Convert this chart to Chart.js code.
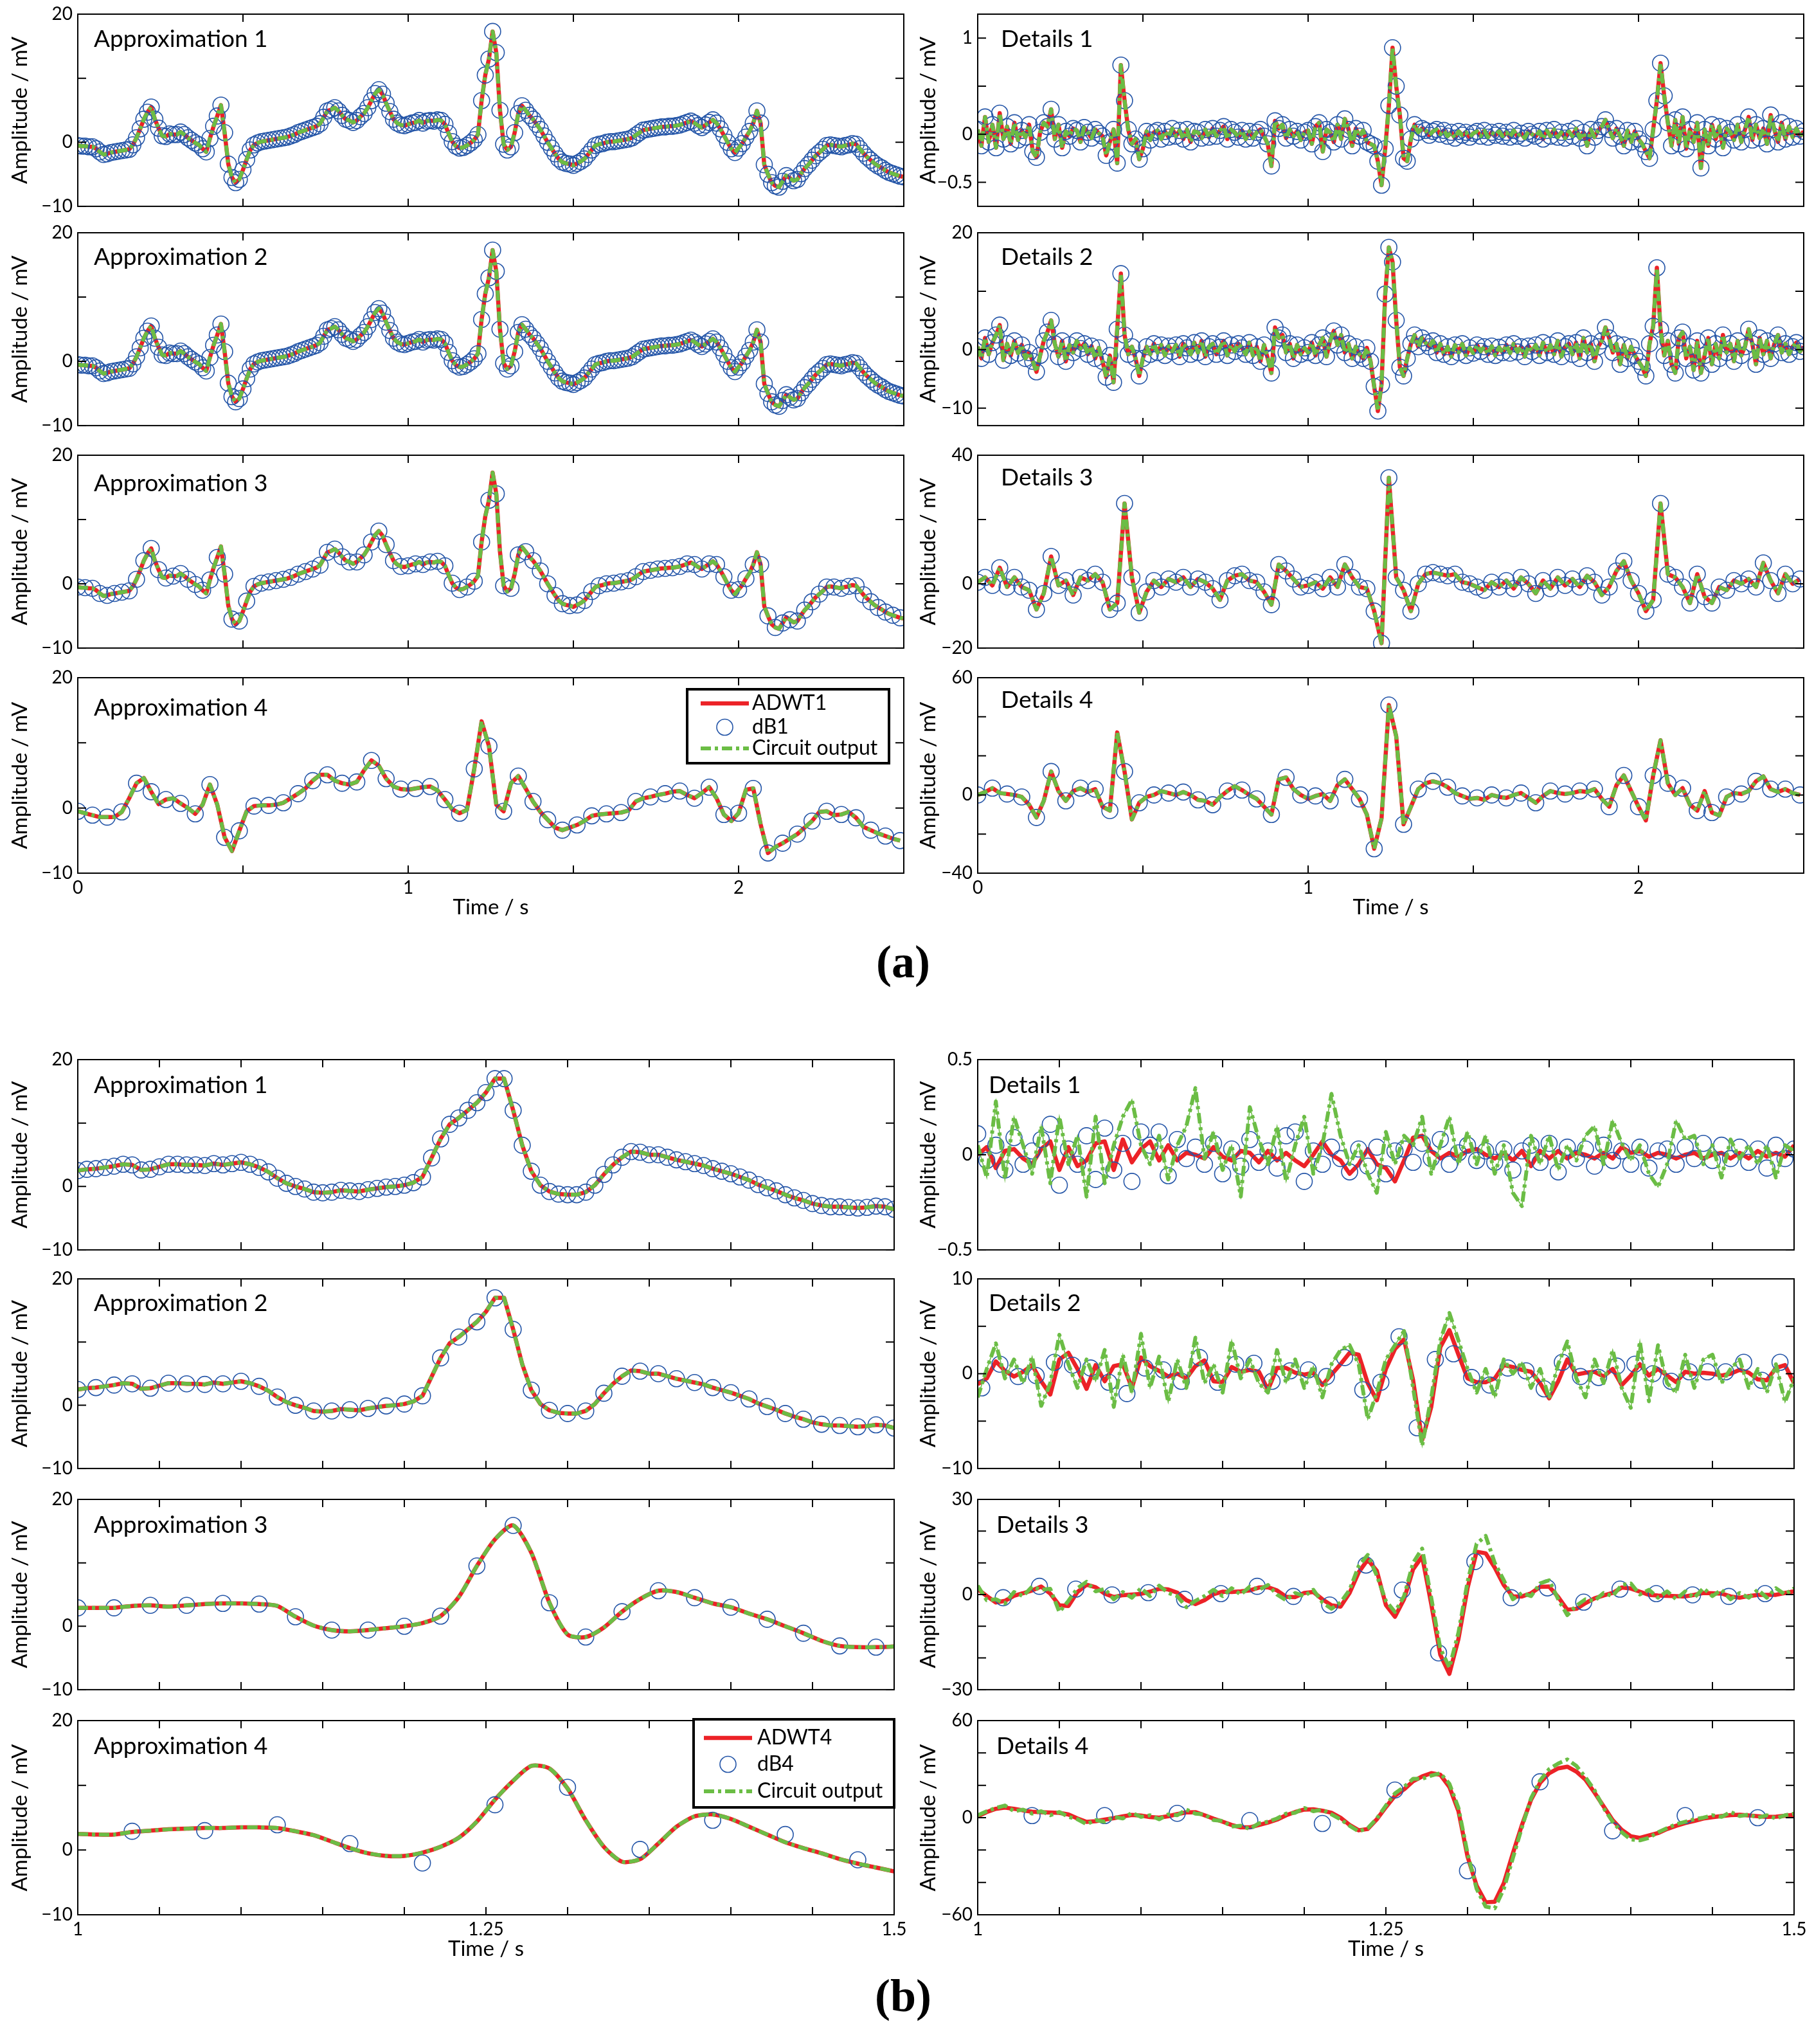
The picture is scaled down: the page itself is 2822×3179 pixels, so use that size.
<!DOCTYPE html>
<html>
<head>
<meta charset="utf-8">
<script src="https://cdn.jsdelivr.net/npm/chart.js@4.4.1/dist/chart.umd.min.js"></script>
<style>
  body { margin: 0; background: #fff; width: 2822px; height: 3179px; position: relative; overflow: hidden; }
  .box { position: absolute; }
  .tag { position: absolute; font: bold 72px "Liberation Serif", serif; line-height: 1; transform: translate(-50%, -50%); color: #000; }
</style>
</head>
<body>
<div class="tag" style="left:1405px; top:1496px">(a)</div>
<div class="tag" style="left:1405px; top:3104px">(b)</div>
<script>
// ---------- panel (a): 0 - 2.5 s ----------
// approximation 1-3 (level-2 spacing, 1/90 s)
const approxA = [
  -0.5,-0.6,-0.6,-0.7,-0.7,-1.0,-1.5,-1.9,-1.8,
  -1.6,-1.5,-1.4,-1.3,-1.2,-1.1,-0.4,0.7,2.1,
  3.6,4.7,5.5,3.6,2.2,1.0,0.9,1.3,1.2,
  1.2,1.6,1.2,0.7,0.3,-0.1,-0.4,-1.0,-1.5,
  0.6,2.5,4.1,5.8,1.5,-3.4,-5.5,-6.3,-5.8,
  -4.3,-2.7,-1.2,-0.4,-0.1,0.1,0.2,0.3,0.4,
  0.5,0.6,0.7,0.8,1.0,1.2,1.5,1.7,1.9,
  2.1,2.3,2.5,2.9,3.9,4.9,5.1,5.4,4.9,
  4.2,3.6,3.4,3.1,3.4,4.0,4.5,5.4,6.5,
  7.6,8.2,7.5,6.1,4.8,3.6,3.0,2.7,2.6,
  2.8,3.0,3.1,3.4,3.0,3.3,3.4,3.3,3.5,
  3.4,2.8,1.4,0.1,-0.6,-0.9,-0.8,-0.5,-0.1,
  0.4,1.2,6.5,10.5,13.0,17.3,14.0,5.0,-0.3,
  -1.2,-0.7,1.5,4.5,5.7,5.0,4.2,3.6,2.8,
  2.0,1.0,0.0,-0.9,-1.8,-2.6,-3.1,-3.3,-3.4,
  -3.6,-3.3,-3.0,-2.6,-1.9,-1.2,-0.5,-0.3,-0.2,
  0.0,0.1,0.1,0.2,0.3,0.4,0.5,0.7,1.1,
  1.5,1.9,2.0,2.1,2.2,2.3,2.4,2.4,2.5,
  2.5,2.6,2.7,2.9,3.1,3.3,3.0,2.6,2.3,
  2.7,3.1,3.5,3.0,2.1,1.1,0.0,-1.0,-1.6,
  -0.9,-0.2,0.8,1.7,3.0,4.9,3.0,-3.5,-5.0,
  -6.3,-6.8,-7.0,-6.1,-5.2,-5.6,-6.0,-5.8,-4.9,
  -4.1,-3.5,-2.8,-2.1,-1.6,-1.1,-0.5,-0.4,-0.5,
  -0.6,-0.7,-0.5,-0.4,-0.2,-0.3,-1.0,-1.7,-2.3,
  -2.8,-3.3,-3.7,-4.0,-4.4,-4.7,-4.9,-5.1,-5.3,-5.4
];
// approximation 4 (1/45 s)
const approxA4 = [
  -0.5,-0.8,-1.1,-1.4,-1.4,-1.4,-0.6,1.5,3.8,
  4.6,2.5,0.6,1.3,1.5,0.7,0.0,-0.9,0.5,
  3.6,0.5,-4.5,-6.6,-3.5,-0.5,0.3,0.4,0.4,
  0.5,0.8,1.5,2.2,3.0,4.2,5.1,5.1,4.2,
  3.8,3.6,4.0,5.8,7.3,6.5,4.5,3.3,2.9,
  2.8,3.0,3.2,3.3,2.7,1.3,-0.2,-0.8,-0.3,
  6.0,13.3,9.5,0.5,-0.5,3.8,4.9,3.0,1.0,
  -0.6,-1.8,-3.0,-3.4,-3.0,-2.6,-2.0,-1.2,-1.0,
  -0.9,-0.8,-0.7,-0.4,1.0,1.5,1.7,2.0,2.2,
  2.5,2.6,2.0,1.5,2.3,3.2,1.5,-1.0,-2.0,
  -0.8,2.8,3.0,-2.5,-6.9,-6.0,-5.4,-4.7,-4.0,
  -3.0,-2.0,-0.6,-0.5,-1.1,-1.0,-0.6,-1.5,-2.9,
  -3.4,-3.9,-4.3,-4.7,-5.0
];
// details 1 (1/90 s)
const detA1 = [
  0.05,-0.12,0.18,-0.08,0.10,-0.14,0.22,-0.05,0.08,
  -0.10,0.12,-0.06,0.04,-0.03,0.10,-0.18,-0.24,0.02,
  0.12,0.08,0.26,-0.05,0.10,-0.14,0.03,-0.02,0.06,
  0.04,-0.08,0.07,0.02,-0.04,0.05,0.01,-0.02,-0.22,
  -0.08,0.05,-0.30,0.72,0.35,0.05,-0.10,-0.05,-0.26,
  -0.15,0.03,-0.06,0.02,0.04,-0.05,0.03,-0.03,0.06,
  -0.02,0.04,-0.05,0.05,-0.08,0.03,0.02,-0.04,0.05,
  -0.03,0.06,-0.02,0.04,0.08,-0.05,0.05,0.02,-0.03,
  0.04,-0.05,0.03,-0.04,0.02,0.05,-0.02,-0.10,-0.33,
  0.14,0.06,0.10,-0.04,0.05,-0.02,0.03,-0.06,0.02,
  0.04,-0.10,0.08,0.12,-0.18,0.05,0.02,-0.08,0.10,
  -0.05,0.16,0.05,-0.12,0.06,-0.02,0.04,-0.08,-0.10,
  -0.12,-0.28,-0.53,-0.15,0.30,0.90,0.50,0.20,-0.25,
  -0.28,-0.05,0.10,0.02,0.06,0.04,-0.01,0.03,0.05,
  0.00,0.04,-0.02,0.02,-0.04,0.03,-0.01,0.02,-0.03,
  0.01,0.03,-0.02,0.04,-0.03,0.02,-0.01,0.03,-0.02,
  0.02,-0.03,0.04,-0.02,0.01,-0.04,0.03,0.00,-0.02,
  0.03,-0.05,0.04,-0.02,0.05,-0.03,0.02,-0.04,0.03,
  -0.02,0.06,-0.04,0.02,-0.12,0.05,-0.03,0.04,0.08,
  0.15,0.05,-0.04,0.06,-0.02,-0.12,0.04,-0.08,0.03,
  -0.05,-0.10,-0.18,-0.25,0.05,0.35,0.74,0.40,0.12,
  -0.12,0.15,-0.10,0.18,-0.15,0.05,-0.08,0.12,-0.35,
  0.05,-0.12,0.10,-0.05,0.08,-0.14,0.06,0.02,-0.06,
  0.10,-0.08,0.05,0.18,-0.06,0.10,-0.04,0.06,-0.10,
  0.20,0.05,-0.08,0.12,-0.05,0.08,-0.03,0.06,-0.02,0.03
];
// details 2 (1/90 s)
const detA2 = [
  0.5,-1.5,2.0,-0.8,1.2,2.5,4.2,-1.8,1.0,
  -1.0,1.5,-0.6,0.8,-1.5,-0.5,-2.0,-3.8,-1.0,
  1.5,3.0,5.0,1.0,-1.2,1.5,-2.0,0.8,-0.5,
  1.5,0.2,1.0,-0.8,0.6,-1.5,0.3,-2.0,-4.7,
  -1.0,-5.6,3.5,13.0,2.5,-0.8,0.5,-1.5,-4.5,
  -1.5,0.5,-0.8,1.0,-0.5,0.8,-1.0,0.6,-0.3,
  0.8,-1.2,1.0,0.3,-0.8,1.2,-0.5,1.5,-1.2,
  0.5,1.0,-0.8,0.4,1.5,-1.0,0.8,-0.3,1.0,
  0.3,-0.8,1.2,-1.0,0.5,-2.0,0.8,-1.5,-4.0,
  3.8,2.0,2.5,-0.5,1.0,-1.5,0.8,-0.8,0.3,
  -0.5,1.2,-1.0,0.8,2.0,-1.2,1.5,3.2,0.8,
  2.5,-0.5,1.0,-1.5,0.5,-0.8,-1.5,0.3,-2.0,
  -6.3,-10.5,-6.0,9.5,17.5,15.0,5.0,-3.0,-4.5,
  -1.5,1.0,2.5,0.5,2.0,1.2,0.5,1.5,-0.5,
  1.0,-0.8,0.5,-1.2,0.8,-0.5,1.0,-1.0,0.3,
  -0.6,0.8,-0.3,0.5,-0.8,0.6,-1.0,0.4,-0.5,
  0.8,-0.6,1.0,-0.4,0.5,-1.2,0.6,-0.3,0.8,
  -1.0,1.2,-0.5,0.8,-0.8,1.5,-1.2,0.5,1.0,
  -0.8,1.2,-1.5,2.0,-0.5,1.0,-2.0,0.5,1.5,
  3.8,2.0,-0.5,1.0,-2.5,0.8,-1.5,0.5,-1.0,
  -2.0,-3.0,-4.5,1.0,4.0,14.0,3.5,-1.0,1.5,
  -2.5,-4.0,2.0,3.0,-1.5,0.5,-3.5,1.5,-4.0,
  -1.0,2.0,-2.5,1.0,-1.5,2.5,-0.5,1.0,-2.0,
  1.5,-1.0,0.5,3.5,1.0,-2.5,2.0,-0.8,1.5,
  -1.5,1.0,2.5,-0.5,1.0,-0.8,0.5,1.2,-0.3,0.5
];
// details 3 (1/45 s)
const detA3 = [
  0.5,2.0,-0.5,5.0,-1.0,2.0,-1.0,-2.0,-8.0,
  -3.0,8.5,-0.5,1.0,-3.5,2.0,1.0,3.0,0.5,
  -8.0,-6.0,25.0,2.0,-9.0,-2.5,1.0,-1.0,1.5,
  0.5,2.0,-1.0,1.5,0.5,-1.5,-5.0,1.0,2.5,
  3.0,1.0,0.5,-2.5,-6.5,6.0,4.0,1.5,-1.0,
  -0.5,0.5,-1.5,2.0,-1.0,6.0,2.0,-1.0,-1.5,
  -8.5,-18.5,33.0,2.0,-2.0,-8.5,0.0,3.0,3.5,
  3.0,2.5,3.0,0.5,0.0,-1.0,-2.0,0.5,-1.0,
  1.0,-1.5,2.0,0.0,-3.0,1.0,-1.5,2.0,-0.5,
  1.5,-1.0,2.5,0.5,-3.5,-1.0,4.0,7.0,1.0,
  -3.0,-8.5,-5.0,25.0,3.0,2.0,-1.0,-6.0,3.0,
  -4.0,-6.0,-1.0,-2.0,1.0,0.0,1.5,-1.0,6.5,
  1.0,-3.0,3.0,0.0,1.5
];
// details 4 (1/45 s)
const detA4 = [
  0.0,1.5,3.5,1.0,0.5,0.0,-1.0,-5.0,-11.5,
  -3.0,12.0,2.0,-3.0,2.0,3.5,1.5,3.0,-6.0,
  -8.0,32.0,12.0,-12.5,-4.0,-1.0,0.0,2.0,1.0,
  0.0,1.5,0.0,-2.5,-3.0,-5.0,-1.0,2.0,4.5,
  2.5,0.0,-2.0,-6.0,-10.0,8.0,9.0,3.0,0.0,
  -2.0,-0.5,0.5,-3.0,5.0,8.0,3.0,-2.0,-10.0,
  -27.5,-12.0,46.0,30.0,-15.0,-6.0,3.0,6.0,7.0,
  6.0,4.0,1.0,-0.5,-2.0,-1.5,-2.5,0.0,-1.0,
  -1.5,0.0,1.0,-1.5,-4.0,-0.5,2.0,1.0,0.5,
  1.0,2.0,1.5,3.0,-2.0,-6.0,5.0,10.0,2.0,
  -6.0,-13.0,10.0,28.0,6.0,0.0,3.5,-5.0,-8.0,
  2.0,-9.0,-10.5,-1.0,1.0,0.5,2.0,7.0,9.5,
  3.0,1.5,3.0,1.0,0.0
];

// ---------- panel (b): 1 - 1.5 s ----------
// approximation 1 and 2 (1/180 s)
const approxB = [
  2.5,2.7,2.8,3.0,3.2,3.5,3.4,2.6,2.7,3.1,
  3.5,3.5,3.4,3.4,3.3,3.6,3.4,3.6,3.8,3.5,
  3.0,2.3,1.3,0.5,0.0,-0.4,-0.9,-1.0,-0.9,-0.6,
  -0.7,-0.8,-0.5,-0.3,-0.1,0.0,0.2,0.6,1.5,4.5,
  7.5,9.8,10.8,12.0,13.2,14.8,17.0,17.0,12.0,6.5,
  2.4,0.2,-0.8,-1.2,-1.3,-1.3,-0.9,0.2,1.9,3.4,
  4.6,5.5,5.4,5.0,5.0,4.6,4.2,3.9,3.6,3.3,
  2.8,2.4,2.0,1.5,1.0,0.3,-0.2,-0.7,-1.3,-1.8,
  -2.2,-2.7,-3.0,-3.2,-3.2,-3.3,-3.4,-3.3,-3.1,-3.2,
  -3.6
];
// approximation 3 (1/90 s)
const approxB3 = [
  2.9,2.9,2.9,3.2,3.3,3.1,3.3,3.5,3.6,3.6,
  3.5,3.2,1.5,0.1,-0.6,-0.8,-0.6,-0.3,0.0,0.5,
  1.6,4.6,9.5,13.7,15.9,11.6,3.7,-1.3,-1.7,-0.2,
  2.3,4.3,5.6,5.4,4.5,3.6,3.0,2.0,1.1,0.0,
  -1.1,-2.3,-3.1,-3.3,-3.3,-3.2
];
// approximation 4 (1/90 s) and its dB4 samples
const approxB4 = [
  2.5,2.4,2.4,2.8,3.0,3.2,3.3,3.4,3.4,3.5,
  3.5,3.4,2.9,2.3,1.3,0.3,-0.5,-0.9,-0.9,-0.4,
  0.5,1.9,4.4,7.8,10.7,13.0,12.6,9.5,4.6,0.5,
  -1.8,-1.4,1.0,3.6,5.2,5.5,4.8,3.6,2.4,1.2,
  0.3,-0.5,-1.4,-2.1,-2.7,-3.3
];
const approxB4dB = [2.9,3.0,3.9,1.0,-2.0,7.0,9.7,0.1,4.6,2.4,-1.5];
// details 1 (1/180 s)
const detB1 = [
  0.00,0.04,-0.07,0.02,0.03,-0.02,-0.05,0.03,0.07,-0.08,
  0.04,-0.06,-0.03,0.06,0.07,-0.08,0.08,-0.04,0.03,0.07,
  -0.03,0.05,-0.03,0.01,0.00,-0.02,0.04,-0.01,-0.03,0.02,
  0.01,-0.04,0.02,-0.03,0.01,-0.03,-0.06,0.00,0.07,0.00,
  -0.03,-0.10,-0.05,0.03,-0.05,-0.07,-0.14,-0.03,0.09,0.10,
  0.02,-0.02,0.01,-0.01,0.02,0.03,0.00,-0.02,0.01,-0.03,
  0.02,-0.06,0.02,-0.02,0.02,-0.02,0.01,0.00,-0.02,0.01,
  -0.02,0.04,0.01,0.02,-0.01,0.01,0.00,-0.02,0.00,0.01,
  -0.02,0.00,0.01,-0.02,0.01,-0.02,0.02,-0.01,0.01,-0.01,
  0.05
];
const detB1Circuit = [
  0.05,-0.12,0.28,-0.13,0.20,0.05,-0.10,0.15,-0.15,0.20,
  -0.05,0.10,-0.22,0.20,-0.15,0.05,0.20,0.29,0.05,-0.05,
  0.10,-0.13,0.05,0.15,0.35,-0.02,0.12,-0.08,0.05,-0.22,
  0.25,0.08,-0.05,0.15,-0.14,0.05,0.20,-0.10,0.05,0.32,
  0.10,-0.05,0.05,-0.10,-0.20,0.12,-0.05,0.10,0.05,0.20,
  -0.10,0.05,0.20,-0.05,0.12,-0.05,0.10,-0.10,0.05,-0.20,
  -0.27,0.10,-0.05,0.10,-0.08,0.05,-0.03,0.10,0.15,-0.05,
  0.18,0.06,-0.03,0.05,-0.10,-0.17,-0.05,0.18,0.08,0.10,
  -0.05,0.05,-0.12,0.08,-0.02,0.05,-0.05,0.05,-0.12,0.05,
  0.02
];
const detB1dB = [
  0.11,-0.03,0.05,-0.08,0.09,-0.05,0.02,0.08,0.16,-0.16,
  0.03,-0.05,0.10,-0.13,0.14,-0.08,0.06,-0.14,0.12,0.05,
  0.12,-0.11,0.08,-0.02,0.04,-0.05,0.06,-0.10,0.03,-0.06,
  0.08,-0.04,0.02,-0.07,0.10,0.12,-0.14,0.02,-0.05,0.04,
  -0.02,-0.09,0.03,-0.06,0.04,-0.10,0.02,0.03,-0.04,0.06,
  -0.02,0.08,-0.05,0.01,0.05,-0.03,0.02,-0.04,0.03,-0.08,
  0.02,0.05,-0.04,0.06,-0.09,0.04,-0.02,0.03,-0.06,0.05,
  -0.03,0.02,-0.05,0.04,-0.07,0.02,0.03,-0.05,0.04,-0.02,
  0.06,-0.03,0.05,-0.02,0.04,-0.04,0.03,-0.07,0.05,-0.02,
  0.03
];
// details 2 (1/180 s), dB2 every 1/90 s
const detB2 = [
  -1.1,-0.5,1.3,0.3,-0.3,0.2,0.9,-0.8,-2.2,1.5,
  2.2,0.5,-1.6,0.9,-0.8,0.8,1.0,-1.5,1.7,0.8,
  0.3,-0.3,0.0,-0.5,0.8,1.4,-0.8,-0.9,0.7,0.2,
  0.4,0.2,-1.7,0.6,0.6,0.1,-0.1,0.1,-1.2,-0.1,
  1.0,2.2,2.0,-1.0,-2.8,0.5,2.6,3.6,-0.7,-7.0,
  -3.5,2.8,4.6,2.0,-0.5,-0.9,-0.9,-0.5,0.9,0.7,
  0.4,0.2,-1.0,-2.6,-0.8,1.5,-0.1,0.1,0.2,-0.3,
  0.5,-1.2,-0.2,1.0,-0.2,0.5,-0.2,-0.9,0.2,0.0,
  0.1,0.0,-0.2,0.0,0.4,0.1,-0.6,-0.7,0.6,0.9,
  -1.0
];
const detB2Circuit = [
  -2.5,0.5,3.2,-0.5,1.5,-1.0,1.8,-3.4,-1.0,4.1,
  1.0,-1.5,1.5,-0.8,2.5,-3.5,2.0,-2.0,4.2,-1.5,
  1.8,-3.0,1.5,-1.5,3.8,-1.0,1.0,-2.0,3.5,-0.5,
  1.5,-1.0,-2.0,2.5,-1.0,1.5,-1.5,0.8,-2.5,1.0,
  2.5,3.0,1.0,-4.8,-2.0,1.5,3.0,4.5,-1.5,-7.6,
  -2.5,3.5,6.4,3.5,0.5,-2.0,0.5,-2.5,1.5,0.0,
  1.2,-1.5,0.5,-2.6,1.0,3.4,-0.5,-2.5,1.5,-1.0,
  2.5,-1.5,-3.6,3.4,-2.9,3.0,-1.0,-2.0,2.0,-1.5,
  1.5,2.0,-1.0,0.5,1.5,-1.5,0.5,-2.0,1.0,-3.0,
  -0.5
];
const detB2dB = [
  -1.5,1.0,-0.3,-0.2,1.2,0.9,0.6,-0.9,-2.1,0.6,
  0.4,-0.8,1.7,-0.9,1.0,1.1,-0.8,0.3,0.4,-0.3,
  1.7,-1.7,-0.9,3.9,-5.7,1.5,2.1,-0.4,-1.2,0.6,
  0.3,-1.6,1.2,-0.3,-0.4,0.8,1.0,0.0,-0.8,0.2,
  0.2,0.2,1.2,-0.7,1.2
];
// details 3 (1/180 s), dB3 every 1/45 s
const detB3 = [
  1.7,-0.5,-2.5,-2.0,-0.4,0.4,1.3,2.5,0.3,-3.4,
  -3.6,0.8,3.1,2.3,0.3,-0.8,-0.2,0.0,0.2,0.9,
  1.8,1.6,0.6,-1.8,-3.0,-1.8,0.1,0.9,0.8,1.0,
  1.3,2.2,2.3,1.3,-0.7,-0.8,0.5,0.8,-1.5,-3.4,
  -3.8,0.5,7.0,11.0,7.5,-3.3,-7.0,-1.5,8.0,12.0,
  -3.0,-19.0,-25.0,-14.0,2.0,13.5,13.0,8.5,3.0,-0.6,
  -0.6,0.4,2.4,2.5,-0.8,-4.8,-4.5,-2.7,-1.2,-0.3,
  0.5,2.2,1.9,0.9,-0.1,-0.3,-0.4,-0.5,-0.6,-0.1,
  0.5,0.4,0.3,-0.6,-1.0,-0.5,-0.1,-0.1,-0.1,0.5,
  1.0
];
const detB3Circuit = [
  2.8,-1.8,-1.5,-2.8,0.8,-0.5,2.5,1.5,1.8,-5.5,
  -2.0,2.0,4.0,1.0,1.8,-1.5,0.8,-1.0,2.0,-0.5,
  2.8,0.5,-0.5,-4.0,-2.0,-0.5,1.5,-0.5,2.0,0.0,
  2.5,1.5,3.0,0.0,-1.8,0.5,-0.5,1.5,-2.5,-4.5,
  -2.5,1.5,9.0,12.5,6.0,-2.0,-5.5,-0.5,10.0,14.5,
  -1.0,-17.0,-23.0,-12.0,4.0,16.0,18.5,10.0,4.5,-1.5,
  0.5,-0.5,3.5,4.5,-1.5,-6.5,-3.5,-1.5,-2.0,0.5,
  -0.5,3.0,3.5,0.0,1.5,-1.0,1.0,-1.5,1.0,-1.0,
  2.0,-0.5,1.5,-1.5,0.5,-1.0,1.5,-1.0,2.0,0.0,
  2.0
];
const detB3dB = [
  -1.0,2.6,1.7,-0.1,0.6,-1.5,0.3,2.6,-0.6,-3.3,
  9.3,1.4,-18.4,10.4,-1.0,2.1,-2.4,1.7,0.3,-0.1,
  -0.6,0.3
];
// details 4 (1/180 s), dB4 every 1/22.5 s
const detB4 = [
  0.9,3.5,5.5,6.2,5.5,4.5,3.7,3.4,3.2,3.0,
  2.0,-0.5,-2.6,-2.2,-1.2,-0.3,0.8,1.7,1.3,0.4,
  0.0,0.9,2.2,3.3,3.4,1.5,-0.6,-2.5,-4.5,-6.0,
  -6.0,-4.5,-3.0,-1.2,1.5,3.5,5.0,5.2,4.3,3.0,
  0.0,-4.5,-7.8,-7.0,-1.0,6.5,13.5,17.5,22.5,25.5,
  27.5,26.5,19.0,4.0,-24.0,-42.0,-52.3,-52.0,-40.5,-22.0,
  -4.5,11.0,21.5,27.5,30.5,31.5,28.5,23.5,15.5,7.0,
  -1.5,-7.5,-11.5,-12.5,-11.0,-9.5,-7.0,-5.0,-3.3,-2.0,
  -0.5,0.3,1.0,1.6,1.8,1.4,0.9,0.5,0.6,1.2,
  1.8
];
const detB4Circuit = [
  1.5,4.0,6.0,7.5,4.0,5.0,2.5,4.0,1.5,3.5,
  0.5,-1.0,-4.0,-1.5,-2.5,0.5,-0.5,3.0,0.5,1.5,
  -1.0,2.0,1.5,5.0,2.5,2.0,-1.5,-2.0,-5.5,-5.0,
  -7.0,-3.5,-2.5,-0.5,2.5,3.0,6.0,4.0,5.0,2.0,
  -1.0,-5.0,-8.5,-6.5,-0.5,7.5,15.0,19.0,24.0,24.0,
  26.0,27.5,21.0,6.0,-22.0,-44.0,-55.0,-56.0,-44.0,-25.0,
  -6.0,12.0,23.0,30.0,33.5,36.0,32.0,25.0,17.0,6.0,
  -2.5,-9.0,-13.5,-14.0,-12.5,-9.0,-6.5,-4.0,-2.5,-1.0,
  0.0,1.5,0.5,3.5,1.0,2.0,0.0,1.5,-0.5,1.5,
  2.5
];
const detB4dB = [1.3,1.3,2.7,-1.8,-3.6,17.1,-32.8,22.2,-8.1,1.3,0.0];

// ---------- axes ----------
const timeTicksA = [0, 0.5, 1, 1.5, 2, 2.5];
const timeLabelsA = ['0', '', '1', '', '2', ''];
const timeTicksB = [1, 1.05, 1.1, 1.15, 1.2, 1.25, 1.3, 1.35, 1.4, 1.45, 1.5];
const timeLabelsB = ['1', '', '', '', '', '1.25', '', '', '', '', '1.5'];

const approxTicks = [-10, 0, 10, 20];
const approxLabels = ['\u221210', '0', '', '20'];
const detA1Ticks = [-0.5, 0, 0.5, 1];
const detA1Labels = ['\u22120.5', '0', '', '1'];
const detA2Ticks = [-10, 0, 10, 20];
const detA2Labels = ['\u221210', '0', '', '20'];
const detA3Ticks = [-20, 0, 20, 40];
const detA3Labels = ['\u221220', '0', '', '40'];
const detA4Ticks = [-40, -20, 0, 20, 40, 60];
const detA4Labels = ['\u221240', '', '0', '', '', '60'];
const detB1Ticks = [-0.5, 0, 0.5];
const detB1Labels = ['\u22120.5', '0', '0.5'];
const detB2Ticks = [-10, -5, 0, 5, 10];
const detB2Labels = ['\u221210', '', '0', '', '10'];
const detB3Ticks = [-30, -20, -10, 0, 10, 20, 30];
const detB3Labels = ['\u221230', '', '', '0', '', '', '30'];
const detB4Ticks = [-60, -40, -20, 0, 20, 40, 60];
const detB4Labels = ['\u221260', '', '', '0', '', '', '60'];

const legendA = ['ADWT1', 'dB1', 'Circuit output'];
const legendB = ['ADWT4', 'dB4', 'Circuit output'];

const RED = '#ec2227';
const GREEN = '#6bbd45';
const BLUE = '#2556a8';
const DASH = [16, 6, 5, 6];

Chart.defaults.font.family = 'Lato';
Chart.defaults.color = '#000';

const geo = {
  a: { cols: [[121, 1406], [1521, 2806]], rows: [[22, 323], [362, 664], [708, 1010], [1054, 1358]] },
  b: { cols: [[121, 1391], [1521, 2791]], rows: [[1648, 1946], [1989, 2286], [2332, 2630], [2676, 2978]] }
};

function pts(vals, t0, dt, every) {
  const out = [];
  const step = every || 1;
  for (let i = 0; i < vals.length; i += step) out.push({ x: t0 + i * dt, y: vals[i] });
  return out;
}

function drawLegend(ctx, a, lg) {
  const bx = a.right + lg.dx, by = a.top + lg.dy;
  ctx.fillStyle = '#fff';
  ctx.fillRect(bx, by, lg.w, lg.h);
  ctx.setLineDash([]);
  ctx.lineWidth = 4;
  ctx.strokeStyle = '#000';
  ctx.strokeRect(bx, by, lg.w, lg.h);
  const x0 = bx + lg.l0, x1 = bx + lg.l1;
  const ys = lg.rows.map(r => by + r);
  ctx.lineWidth = 6.5;
  ctx.strokeStyle = RED;
  ctx.beginPath(); ctx.moveTo(x0, ys[0]); ctx.lineTo(x1, ys[0]); ctx.stroke();
  ctx.lineWidth = 1.6;
  ctx.strokeStyle = BLUE;
  ctx.beginPath(); ctx.arc((x0 + x1) / 2, ys[1], 12.5, 0, Math.PI * 2); ctx.stroke();
  ctx.setLineDash(DASH);
  ctx.lineWidth = 6;
  ctx.strokeStyle = GREEN;
  ctx.beginPath(); ctx.moveTo(x0, ys[2]); ctx.lineTo(x1, ys[2]); ctx.stroke();
  ctx.setLineDash([]);
  ctx.fillStyle = '#000';
  ctx.font = '32px Lato';
  ctx.textBaseline = 'middle';
  lg.text.forEach((t, i) => ctx.fillText(t, bx + lg.tx, ys[i]));
}

// frame, inward ticks, panel name, legend
const deco = {
  id: 'deco',
  afterDatasetsDraw(chart, args, o) {
    const { ctx, chartArea: a, scales: { x, y } } = chart;
    ctx.save();
    ctx.strokeStyle = '#000';
    ctx.lineWidth = 2;
    ctx.beginPath();
    x.ticks.forEach(t => {
      const px = x.getPixelForValue(t.value);
      ctx.moveTo(px, a.bottom); ctx.lineTo(px, a.bottom - 12);
      ctx.moveTo(px, a.top); ctx.lineTo(px, a.top + 12);
    });
    y.ticks.forEach(t => {
      const py = y.getPixelForValue(t.value);
      ctx.moveTo(a.left, py); ctx.lineTo(a.left + 13, py);
      ctx.moveTo(a.right, py); ctx.lineTo(a.right - 13, py);
    });
    ctx.stroke();
    ctx.strokeRect(a.left, a.top, a.right - a.left, a.bottom - a.top);
    ctx.fillStyle = '#000';
    ctx.font = '37px Lato';
    ctx.textBaseline = 'alphabetic';
    ctx.fillText(o.title, a.left + o.dx, a.top + o.dy);
    if (o.legend) drawLegend(ctx, a, o.legend);
    ctx.restore();
  }
};

const legA = { dx: -337, dy: 18, w: 314, h: 115, rows: [22, 59, 92], l0: 21, l1: 96, tx: 101, text: legendA };
const legB = { dx: -312, dy: -2, w: 312, h: 137, rows: [29, 70, 112], l0: 16, l1: 91, tx: 99, text: legendB };

const yApprox = { min: -10, max: 20, ticks: approxTicks, labels: approxLabels };

const specs = [
  // panel (a), left column
  { g: 'a', c: 0, r: 0, title: 'Approximation 1', dx: 25, dy: 51, y: yApprox,
    red: [approxA, 0, 1 / 90], circ: [approxA, 0, 1 / 90, 1] },
  { g: 'a', c: 0, r: 1, title: 'Approximation 2', dx: 25, dy: 50, y: yApprox,
    red: [approxA, 0, 1 / 90], circ: [approxA, 0, 1 / 90, 1] },
  { g: 'a', c: 0, r: 2, title: 'Approximation 3', dx: 25, dy: 56, y: yApprox,
    red: [approxA, 0, 1 / 90], circ: [approxA, 0, 1 / 90, 2] },
  { g: 'a', c: 0, r: 3, title: 'Approximation 4', dx: 25, dy: 59, y: yApprox, legend: legA,
    red: [approxA4, 0, 1 / 45], circ: [approxA4, 0, 1 / 45, 2] },
  // panel (a), right column
  { g: 'a', c: 1, r: 0, title: 'Details 1', dx: 36, dy: 51,
    y: { min: -0.75, max: 1.25, ticks: detA1Ticks, labels: detA1Labels },
    red: [detA1, 0, 1 / 90], circ: [detA1, 0, 1 / 90, 1] },
  { g: 'a', c: 1, r: 1, title: 'Details 2', dx: 36, dy: 50,
    y: { min: -13, max: 20, ticks: detA2Ticks, labels: detA2Labels },
    red: [detA2, 0, 1 / 90], circ: [detA2, 0, 1 / 90, 1] },
  { g: 'a', c: 1, r: 2, title: 'Details 3', dx: 36, dy: 47,
    y: { min: -20, max: 40, ticks: detA3Ticks, labels: detA3Labels },
    red: [detA3, 0, 1 / 45], circ: [detA3, 0, 1 / 45, 1] },
  { g: 'a', c: 1, r: 3, title: 'Details 4', dx: 36, dy: 47,
    y: { min: -40, max: 60, ticks: detA4Ticks, labels: detA4Labels },
    red: [detA4, 0, 1 / 45], circ: [detA4, 0, 1 / 45, 2] },
  // panel (b), left column
  { g: 'b', c: 0, r: 0, title: 'Approximation 1', dx: 25, dy: 52, y: yApprox,
    red: [approxB, 1, 1 / 180], circ: [approxB, 1, 1 / 180, 1] },
  { g: 'b', c: 0, r: 1, title: 'Approximation 2', dx: 25, dy: 50, y: yApprox,
    red: [approxB, 1, 1 / 180], circ: [approxB, 1, 1 / 180, 2] },
  { g: 'b', c: 0, r: 2, title: 'Approximation 3', dx: 25, dy: 52, y: yApprox, smooth: true,
    red: [approxB3, 1, 1 / 90], circ: [approxB3, 1, 1 / 90, 2] },
  { g: 'b', c: 0, r: 3, title: 'Approximation 4', dx: 25, dy: 52, y: yApprox, smooth: true, legend: legB,
    red: [approxB4, 1, 1 / 90], circ: [approxB4dB, 1.0333, 1 / 22.5, 1] },
  // panel (b), right column
  { g: 'b', c: 1, r: 0, title: 'Details 1', dx: 17, dy: 52,
    y: { min: -0.5, max: 0.5, ticks: detB1Ticks, labels: detB1Labels },
    red: [detB1, 1, 1 / 180], green: [detB1Circuit, 1, 1 / 180], thin: true, circ: [detB1dB, 1, 1 / 180, 1] },
  { g: 'b', c: 1, r: 1, title: 'Details 2', dx: 17, dy: 50,
    y: { min: -10, max: 10, ticks: detB2Ticks, labels: detB2Labels },
    red: [detB2, 1, 1 / 180], green: [detB2Circuit, 1, 1 / 180], thin: true, circ: [detB2dB, 1.0025, 1 / 90, 1] },
  { g: 'b', c: 1, r: 2, title: 'Details 3', dx: 29, dy: 52,
    y: { min: -30, max: 30, ticks: detB3Ticks, labels: detB3Labels },
    red: [detB3, 1, 1 / 180], green: [detB3Circuit, 1, 1 / 180], circ: [detB3dB, 1.0156, 1 / 45, 1] },
  { g: 'b', c: 1, r: 3, title: 'Details 4', dx: 29, dy: 52,
    y: { min: -60, max: 60, ticks: detB4Ticks, labels: detB4Labels },
    red: [detB4, 1, 1 / 180], green: [detB4Circuit, 1, 1 / 180], circ: [detB4dB, 1.0333, 1 / 22.5, 1] }
];

function makePanel(s) {
  const grp = geo[s.g];
  const [pl, pr] = grp.cols[s.c];
  const [pt, pb] = grp.rows[s.r];
  const cLeft = s.c === 0 ? 0 : 1421;
  const padL = pl - cLeft, padT = 34, padR = 30;
  const bottom = s.r === 3;
  const padB = bottom ? 80 : 12;
  const W = padL + (pr - pl) + padR;
  const H = padT + (pb - pt) + padB;

  const div = document.createElement('div');
  div.className = 'box';
  div.style.left = cLeft + 'px';
  div.style.top = (pt - padT) + 'px';
  const cv = document.createElement('canvas');
  cv.width = W; cv.height = H;
  cv.style.width = W + 'px'; cv.style.height = H + 'px';
  div.appendChild(cv);
  document.body.appendChild(div);

  const isA = s.g === 'a';
  const tTicks = isA ? timeTicksA : timeTicksB;
  const tLabels = isA ? timeLabelsA : timeLabelsB;
  const redPts = pts(s.red[0], s.red[1], s.red[2]);
  const greenPts = s.green ? pts(s.green[0], s.green[1], s.green[2]) : redPts;
  const tension = s.smooth ? 0.25 : 0;

  const datasets = [
    { label: 'Circuit output', data: greenPts, borderColor: GREEN, borderWidth: 6, borderDash: DASH,
      borderJoinStyle: 'round', pointRadius: 0, tension, order: 1 },
    { label: 'dB', data: pts(s.circ[0], s.circ[1], s.circ[2], s.circ[3]), showLine: false,
      pointRadius: 12.5, pointStyle: 'circle', pointBorderColor: BLUE, pointBackgroundColor: 'rgba(0,0,0,0)',
      pointBorderWidth: 1.6, order: 2 },
    { label: 'ADWT', data: redPts, borderColor: RED, borderWidth: 6.5, borderJoinStyle: 'round',
      pointRadius: 0, tension, order: 3 }
  ];
  if (s.thin) {
    datasets.push({ label: 'Circuit output (trace)', data: greenPts, borderColor: GREEN, borderWidth: 1.5,
      pointRadius: 0, order: 1 });
  }

  new Chart(cv, {
    type: 'line',
    data: { datasets },
    plugins: [deco],
    options: {
      responsive: false,
      animation: false,
      devicePixelRatio: 1,
      events: [],
      layout: { padding: { left: 0, top: padT, right: padR, bottom: 0 } },
      plugins: {
        legend: { display: false },
        tooltip: { enabled: false },
        deco: { title: s.title, dx: s.dx, dy: s.dy, legend: s.legend }
      },
      scales: {
        x: {
          type: 'linear',
          min: tTicks[0], max: tTicks[tTicks.length - 1],
          grid: { display: false, drawTicks: false },
          border: { display: false },
          afterBuildTicks: sc => { sc.ticks = tTicks.map(v => ({ value: v })); },
          ticks: { display: bottom, autoSkip: false, maxRotation: 0, padding: 6,
                   font: { size: 28 }, callback: (v, i) => tLabels[i] },
          title: { display: bottom, text: 'Time / s', font: { size: 33 }, padding: { top: 0, bottom: 7 } },
          afterFit: sc => { sc.height = padB; sc.paddingLeft = 0; sc.paddingRight = 0; }
        },
        y: {
          type: 'linear',
          min: s.y.min, max: s.y.max,
          grid: { display: false, drawTicks: false },
          border: { display: false },
          afterBuildTicks: sc => { sc.ticks = s.y.ticks.map(v => ({ value: v })); },
          ticks: { autoSkip: false, padding: 8, font: { size: 28 }, callback: (v, i) => s.y.labels[i] },
          title: { display: true, text: 'Amplitude / mV', font: { size: 33 },
                   padding: { top: s.c === 0 ? 12 : 4, bottom: 0 } },
          afterFit: sc => { sc.width = padL; sc.paddingTop = 0; sc.paddingBottom = 0; }
        }
      }
    }
  });
}

specs.forEach(makePanel);
</script>
</body>
</html>
